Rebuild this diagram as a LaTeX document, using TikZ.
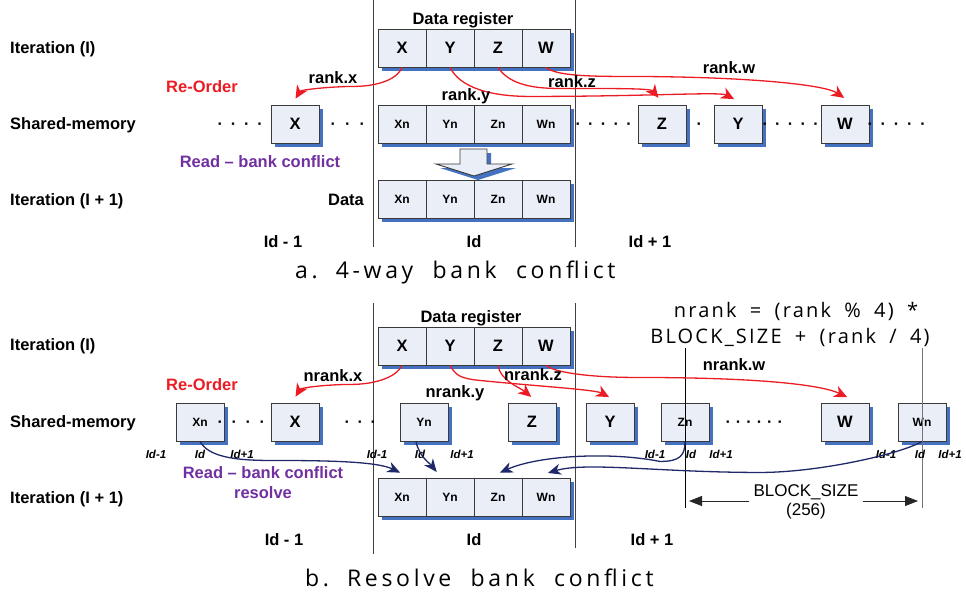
\documentclass[tikz,border=0pt]{standalone}
\usepackage{fontspec}
\setmainfont{Liberation Sans}
\newfontfamily\capfont[LetterSpace=16,WordSpace=2.0]{Open Sans}
\newfontfamily\formfont[LetterSpace=11,WordSpace=1.8]{Open Sans}
\usetikzlibrary{arrows.meta,shadows}

\definecolor{boxfill}{HTML}{E9EEF7}
\definecolor{boxline}{HTML}{3A3A3A}
\definecolor{shadowblue}{HTML}{4472C0}
\definecolor{reorderred}{HTML}{EC1C24}
\definecolor{readpurple}{HTML}{7030A0}
\definecolor{readnavy}{HTML}{1F2868}

% a run of #1 centred dots separated by #2
\newcommand\dotrun[2]{·\foreach \k in {2,...,#1}{\hspace{#2}·}}

\begin{document}
\begin{tikzpicture}[x=1pt,y=-1pt,
  cell/.style={draw=boxline, line width=0.9pt, fill=boxfill,
    minimum width=48pt, minimum height=38pt, inner sep=0pt,
    drop shadow={shadow xshift=4pt, shadow yshift=-4pt, fill=shadowblue, opacity=1},
    font=\bfseries\fontsize{16.5}{18}\selectfont},
  ncell/.style={cell, font=\bfseries\fontsize{12}{14}\selectfont},
  lbl/.style={inner sep=0pt, anchor=base, font=\bfseries\fontsize{16.5}{20}\selectfont},
  rowlbl/.style={lbl, anchor=base west},
  idlbl/.style={inner sep=0pt, anchor=base, font=\bfseries\itshape\fontsize{11.5}{13}\selectfont},
  dotrow/.style={inner sep=0pt, anchor=base west, font=\bfseries\fontsize{16}{18}\selectfont},
  reorder/.style={draw=reorderred, line width=1.3pt, shorten >=1pt,
    -{Stealth[length=13pt,width=12pt,inset=4pt]}},
  readarrow/.style={draw=readnavy, line width=1.3pt, shorten >=2pt,
    -{Stealth[length=13pt,width=11pt,inset=4pt]}},
  divider/.style={draw=black!75, line width=0.8pt},
  guide/.style={draw=black, line width=0.7pt},
  dim/.style={draw=black!85, line width=0.8pt, -{Triangle[length=13pt,width=10pt]}},
  caption/.style={inner sep=0pt, anchor=base west, font=\capfont\fontsize{23}{26}\selectfont},
  formula/.style={inner sep=0pt, anchor=base, font=\formfont\fontsize{20}{24}\selectfont},
]
\useasboundingbox (0,0) rectangle (966,595);

% ================= a. 4-way bank conflict =================
\draw[divider] (373,0) -- (373,247);
\draw[divider] (575,0) -- (575,247);

\node[rowlbl] (aIt)  at (10,53)  {Iteration (I)};
\node[rowlbl] (aSh)  at (10,129) {Shared-memory};
\node[rowlbl] (aIt1) at (10,205) {Iteration (I + 1)};

\node[lbl] (aDR) at (463,24) {Data register};
\node[cell] (rX) at (402,48) {X};
\node[cell] (rY) at (450,48) {Y};
\node[cell] (rZ) at (498,48) {Z};
\node[cell] (rW) at (546,48) {W};

% shared memory row
\node[dotrow] (aD1) at (217.3,129.3) {\dotrun{4}{8pt}};
\node[cell] (aX) at (295,124) {X};
\node[dotrow] (aD2) at (330.3,129.3) {\dotrun{3}{9.2pt}};
\node[ncell] (aXn) at (402,124) {Xn};
\node[ncell] (aYn) at (450,124) {Yn};
\node[ncell] (aZn) at (498,124) {Zn};
\node[ncell] (aWn) at (546,124) {Wn};
\node[dotrow] (aD3) at (575.3,129.3) {\dotrun{5}{7.4pt}};
\node[cell] (aZ) at (662,124) {Z};
\node[dotrow] (aD4) at (696.3,129.3) {·};
\node[cell] (aY) at (738,124) {Y};
\node[dotrow] (aD5) at (762.3,129.3) {\dotrun{5}{7.4pt}};
\node[cell] (aW) at (845,124) {W};
\node[dotrow] (aD6) at (867.3,129.3) {\dotrun{5}{7.9pt}};

% copy down to the next iteration
\filldraw[draw=boxline, line width=0.9pt, fill=boxfill,
  drop shadow={shadow xshift=4pt, shadow yshift=-4pt, fill=shadowblue, opacity=1}]
  (460,149) -- (487,149) -- (487,164) -- (512,164) -- (474,176) -- (436,164) -- (460,164) -- cycle;

\node[lbl] (aData) at (346,205) {Data};
\node[ncell] (dXn) at (402,199) {Xn};
\node[ncell] (dYn) at (450,199) {Yn};
\node[ncell] (dZn) at (498,199) {Zn};
\node[ncell] (dWn) at (546,199) {Wn};

\node[lbl, text=reorderred] (aRe) at (202,92) {Re-Order};
\node[lbl, text=readpurple] (aRead) at (260,167) {Read – bank conflict};

\node[lbl] (aIdm) at (283,247) {Id - 1};
\node[lbl] (aId)  at (474,247) {Id};
\node[lbl] (aIdp) at (650,247) {Id + 1};

% scattered writes
\draw[reorder] (rX.south) .. controls +(-6,14) and +(20,0) .. ++(-49,19)
  .. controls +(-20,0) and +(6,-10) .. ([yshift=5pt]aX.north);
\draw[reorder] (rY.south) .. controls +(10,20) and +(-40,0) .. ++(80,29)
  .. controls +(120,0) and +(-15,-8) .. ([xshift=-3pt,yshift=5pt]aY.north);
\draw[reorder] (rZ.south) .. controls +(10,15) and +(-30,0) .. ++(60,21)
  .. controls +(70,0) and +(-8,-10) .. ([xshift=-3pt,yshift=6pt]aZ.north);
\draw[reorder] (rW.south) .. controls +(10,8) and +(-40,0) .. ++(80,9)
  .. controls +(120,0) and +(-20,-14) .. ([yshift=6pt]aW.north);

\node[lbl] (lx) at (333,83) {rank.x};
\node[lbl] (ly) at (466,100) {rank.y};
\node[lbl] (lz) at (572,87) {rank.z};
\node[lbl] (lw) at (729,73) {rank.w};

\node[caption] (capA) at (295,278) {a.\hspace{18pt}4-way bank conflict};

% ================= b. Resolve bank conflict =================
\draw[divider] (373,303) -- (373,554);
\draw[divider] (575,303) -- (575,548);

\node[formula] (f1) at (796,317) {nrank = (rank \% 4) *};
\node[formula] (f2) at (790,343) {BLOCK\_SIZE + (rank / 4)};

\node[rowlbl] (bIt)  at (10,350) {Iteration (I)};
\node[rowlbl] (bSh)  at (10,427) {Shared-memory};
\node[rowlbl] (bIt1) at (10,503) {Iteration (I + 1)};

\node[lbl] (bDR) at (471,322) {Data register};
\node[cell] (bX) at (402,346) {X};
\node[cell] (bY) at (450,346) {Y};
\node[cell] (bZ) at (498,346) {Z};
\node[cell] (bW) at (546,346) {W};

% shared memory row
\node[ncell] (bXn) at (200,422) {Xn};
\node[dotrow] (bD1) at (217.3,427.3) {\dotrun{4}{8.7pt}};
\node[cell] (bXb) at (295,422) {X};
\node[dotrow] (bD2) at (344.3,427.3) {\dotrun{3}{7.7pt}};
\node[ncell] (bYn) at (424,422) {Yn};
\node[cell] (bZb) at (532,422) {Z};
\node[cell] (bYb) at (610,422) {Y};
\node[ncell] (bZn) at (685,422) {Zn};
\node[dotrow] (bD3) at (725.3,427.3) {\dotrun{6}{5.1pt}};
\node[cell] (bWb) at (845,422) {W};
\node[ncell] (bWn) at (922,422) {Wn};

% block stride guides
\draw[guide] (bZn.center |- 0,348) -- (bZn.center |- 0,508);
\draw[guide, draw=black!55] (bWn.center |- 0,348) -- (bWn.center |- 0,508);

\node[idlbl] (i1) at (156,458) {Id-1};
\node[idlbl] (i2) at (200,458) {Id};
\node[idlbl] (i3) at (242,458) {Id+1};
\node[idlbl] (i4) at (377,458) {Id-1};
\node[idlbl] (i5) at (420,458) {Id};
\node[idlbl] (i6) at (462,458) {Id+1};
\node[idlbl] (i7) at (655,458) {Id-1};
\node[idlbl] (i8) at (691,458) {Id};
\node[idlbl] (i9) at (721,458) {Id+1};
\node[idlbl] (i10) at (886,458) {Id-1};
\node[idlbl] (i11) at (920,458) {Id};
\node[idlbl] (i12) at (950,458) {Id+1};

\node[ncell] (ebXn) at (402,497) {Xn};
\node[ncell] (ebYn) at (450,497) {Yn};
\node[ncell] (ebZn) at (498,497) {Zn};
\node[ncell] (ebWn) at (546,497) {Wn};

\node[lbl, text=reorderred] (bRe) at (202,390) {Re-Order};
\node[lbl, text=readpurple, align=center] (bRead) at (263,498) {Read – bank conflict\\resolve};

\node[lbl] (bIdm) at (284,545) {Id - 1};
\node[lbl] (bId)  at (474,545) {Id};
\node[lbl] (bIdp) at (652,545) {Id + 1};

% block size span
\node[inner sep=0pt, anchor=base, font=\fontsize{17}{20}\selectfont] (bs) at (806,496) {BLOCK\_SIZE};
\node[inner sep=0pt, anchor=base, font=\fontsize{17}{20}\selectfont] (bsn) at (806,515) {(256)};
\draw[dim] ([xshift=-4pt]bs.west |- 0,501) -- ([xshift=4pt]bZn.center |- 0,501);
\draw[dim] ([xshift=4pt]bs.east |- 0,501) -- ([xshift=-4pt]bWn.center |- 0,501);

% conflict-free writes
\draw[reorder] (bX.south) .. controls +(-6,12) and +(25,0) .. ++(-52,19)
  .. controls +(-22,0) and +(6,-10) .. ([yshift=5pt]bXb.north);
\draw[reorder] (bY.south) .. controls +(6,10) and +(-20,-2) .. ++(30,15)
  .. controls +(60,6) and +(-15,-8) .. ([yshift=5pt]bYb.north);
\draw[reorder] (bZ.south) .. controls +(2,15) and +(-12,-10) .. ([yshift=5pt]bZb.north);
\draw[reorder] (bW.south) .. controls +(10,8) and +(-40,0) .. ++(90,12)
  .. controls +(130,0) and +(-25,-12) .. ([xshift=3pt,yshift=5pt]bWb.north);

\node[lbl] (nlx) at (333,381) {nrank.x};
\node[lbl] (nly) at (455,397) {nrank.y};
\node[lbl] (nlz) at (533,380) {nrank.z};
\node[lbl] (nlw) at (734,370) {nrank.w};

% conflict-free reads
\draw[readarrow] (bXn.south) .. controls +(8,14) and +(-40,0) .. ++(70,19)
  .. controls +(60,0) and +(-25,-12) .. ([yshift=4pt]ebXn.north);
\draw[readarrow] ([xshift=-8pt]bYn.south) .. controls +(3,15) and +(-8,-10) .. ([xshift=-12pt,yshift=4pt]ebYn.north);
\draw[readarrow] (bZn.south) .. controls +(0,14) and +(20,0) .. ++(-25,20)
  .. controls +(-50,-10) and +(40,-18) .. ([yshift=4pt]ebZn.north);
\draw[readarrow] (bWn.south) .. controls +(-20,12) and +(60,0) .. ++(-162,31)
  .. controls +(-100,0) and +(40,-12) .. ([yshift=4pt]ebWn.north);

\node[caption] (capB) at (305,586) {b.\hspace{18pt}Resolve bank conflict};
\end{tikzpicture}
\end{document}
